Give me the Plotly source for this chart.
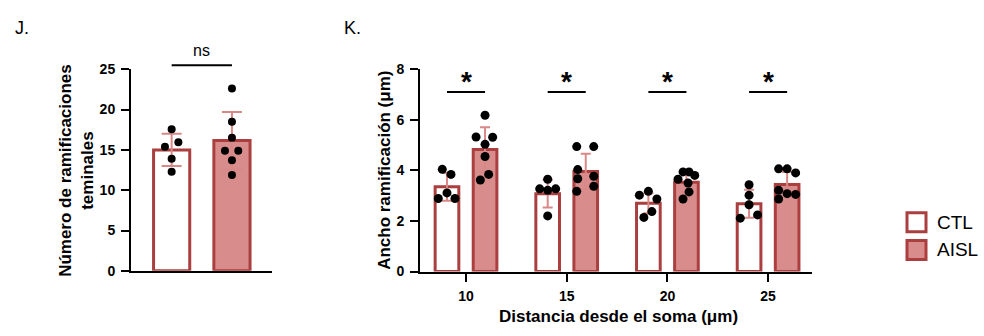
import plotly.graph_objects as go

# ---------------- data ----------------
# Panel J: número de ramificaciones terminales
j_groups = ["CTL", "AISL"]
j_means = [15.0, 16.15]
j_sd = [2.0, 3.55]
j_ctl_points = [17.55, 15.4, 15.95, 13.9, 12.3]
j_aisl_points = [22.6, 18.5, 16.5, 14.9, 14.9, 13.7, 11.9]

# Panel K: ancho de ramificación por distancia
k_distances = ["10", "15", "20", "25"]
k_ctl_means = [3.35, 3.08, 2.70, 2.68]
k_ctl_sd = [0.55, 0.55, 0.40, 0.55]
k_aisl_means = [4.83, 3.96, 3.53, 3.44]
k_aisl_sd = [0.88, 0.70, 0.38, 0.50]
k_ctl_points = [
    [4.04, 3.84, 3.11, 2.89, 2.89],
    [3.65, 3.27, 3.21, 3.27, 2.20],
    [3.02, 3.17, 2.87, 2.37, 2.14],
    [3.43, 3.02, 2.64, 2.11, 2.24],
]
k_aisl_points = [
    [6.18, 5.32, 5.31, 5.03, 4.55, 3.84, 3.62],
    [4.94, 4.94, 4.03, 3.67, 3.77, 3.17, 3.37],
    [3.94, 3.94, 3.80, 3.65, 3.50, 3.15, 2.87],
    [4.06, 4.06, 3.90, 3.21, 3.08, 3.05, 2.87],
]
k_sig = ["*", "*", "*", "*"]
j_sig = "ns"

# ---------------- style ----------------
EDGE = "#ab3f3f"
FILL_AISL = "#d98c8c"
FILL_CTL = "white"
ERR = "#d98888"
FONT = "Liberation Sans, Arial, sans-serif"

W, H = 984, 336
def px_x(p):
    return p / W
def px_y(p):
    return 1 - p / H

J_PX_PER_UNIT = 60.3
K_PX_PER_UNIT = 100.7

fig = go.Figure()

# ---------------- Panel J ----------------
j_x = [0, 1]
fig.add_trace(go.Bar(
    x=j_x, y=j_means, width=0.6,
    marker=dict(color=[FILL_CTL, FILL_AISL], line=dict(color=EDGE, width=3)),
    error_y=dict(type="data", array=j_sd, color=ERR, thickness=2, width=10),
    xaxis="x", yaxis="y", showlegend=False, hoverinfo="skip"))

# horizontal scatter of dots, in pixels
j_ctl_jit = [0, -6.7, 6.7, 0, 0]
j_aisl_jit = [0, 0, 0, -7, 6.3, 0, 0]
fig.add_trace(go.Scatter(
    x=[0 + d / J_PX_PER_UNIT for d in j_ctl_jit] + [1 + d / J_PX_PER_UNIT for d in j_aisl_jit],
    y=j_ctl_points + j_aisl_points, mode="markers",
    marker=dict(color="black", size=8),
    xaxis="x", yaxis="y", showlegend=False, hoverinfo="skip"))

# ---------------- Panel K ----------------
off = 0.189
kx = list(range(len(k_distances)))
fig.add_trace(go.Bar(
    x=[i - off for i in kx], y=k_ctl_means, width=0.235,
    marker=dict(color=FILL_CTL, line=dict(color=EDGE, width=3)),
    error_y=dict(type="data", array=k_ctl_sd, color=ERR, thickness=2, width=5),
    xaxis="x2", yaxis="y2", showlegend=False, hoverinfo="skip"))
fig.add_trace(go.Bar(
    x=[i + off for i in kx], y=k_aisl_means, width=0.235,
    marker=dict(color=FILL_AISL, line=dict(color=EDGE, width=3)),
    error_y=dict(type="data", array=k_aisl_sd, color=ERR, thickness=2, width=5),
    xaxis="x2", yaxis="y2", showlegend=False, hoverinfo="skip"))

# horizontal scatter of dots, in pixels
ctl_jit = [
    [-4.7, 4, 0, -8.7, 8],
    [0, -8, 0, 8, 0],
    [-9, 0, 8.5, 3.5, -4.5],
    [0, 0, 0, -8.8, 8.5],
]
aisl_jit = [
    [0, -9, 7.6, 0, 0, 3.6, -4.7],
    [-9, 8, -8, -8, 8, -9, 8],
    [-3.4, 2.6, 8.3, -8.4, 1.6, 2.6, -3.4],
    [-8.5, 0, 8.5, -8.5, 0, 8.5, -8.5],
]
xs, ys = [], []
for i in kx:
    for d, v in zip(ctl_jit[i], k_ctl_points[i]):
        xs.append(i - off + d / K_PX_PER_UNIT); ys.append(v)
    for d, v in zip(aisl_jit[i], k_aisl_points[i]):
        xs.append(i + off + d / K_PX_PER_UNIT); ys.append(v)
fig.add_trace(go.Scatter(
    x=xs, y=ys, mode="markers", marker=dict(color="black", size=9),
    xaxis="x2", yaxis="y2", showlegend=False, hoverinfo="skip"))

axis_common = dict(showline=True, linecolor="black", linewidth=2, showgrid=False,
                   zeroline=False, ticks="outside", tickwidth=2, tickcolor="black",
                   ticklen=8, ticklabelstandoff=3,
                   tickfont=dict(family=FONT, size=14, color="black", weight="bold"))

fig.update_layout(
    width=W, height=H, margin=dict(l=0, r=0, t=0, b=0),
    paper_bgcolor="white", plot_bgcolor="white",
    barmode="overlay",
    xaxis=dict(domain=[px_x(131), px_x(272)], range=[-0.674, 1.664],
               showline=True, linecolor="black", linewidth=2, showgrid=False,
               zeroline=False, showticklabels=False, ticks=""),
    yaxis=dict(domain=[px_y(276), px_y(64.3)], range=[0, 25], tickvals=[0, 5, 10, 15, 20, 25],
               **axis_common),
    xaxis2=dict(domain=[px_x(420), px_x(811.7)], range=[-0.457, 3.433], anchor="y2",
                tickvals=kx, ticktext=k_distances, **axis_common),
    yaxis2=dict(domain=[px_y(276.7), px_y(64.3)], range=[0, 8], tickvals=[0, 2, 4, 6, 8],
                anchor="x2", **axis_common),
)

ann = []
title_font = dict(family=FONT, size=17, color="black", weight="bold")
ann.append(dict(text="J.", x=px_x(13), y=px_y(21), xref="paper", yref="paper",
                xanchor="left", yanchor="middle", showarrow=False,
                font=dict(family=FONT, size=18, color="black")))
ann.append(dict(text="K.", x=px_x(342), y=px_y(21), xref="paper", yref="paper",
                xanchor="left", yanchor="middle", showarrow=False,
                font=dict(family=FONT, size=18, color="black")))
ann.append(dict(text="Número de ramificaciones<br>teminales", x=px_x(77), y=px_y(171),
                xref="paper", yref="paper", textangle=-90, showarrow=False,
                xanchor="center", yanchor="middle", font=title_font))
ann.append(dict(text="Ancho ramificación (μm)", x=px_x(385), y=px_y(171),
                xref="paper", yref="paper", textangle=-90, showarrow=False,
                xanchor="center", yanchor="middle", font=title_font))
ann.append(dict(text="Distancia desde el soma (μm)", x=px_x(618), y=px_y(324),
                xref="paper", yref="paper", showarrow=False,
                xanchor="center", yanchor="middle", font=title_font))
# significance
ann.append(dict(text=j_sig, x=0.5, y=px_y(45), xref="x", yref="paper", showarrow=False,
                xanchor="center", yanchor="middle",
                font=dict(family=FONT, size=16, color="black")))
shapes = [dict(type="line", xref="x", yref="paper", x0=0, x1=1, y0=px_y(60), y1=px_y(60),
               line=dict(color="black", width=2))]
for i, s in zip(kx, k_sig):
    shapes.append(dict(type="line", xref="x2", yref="paper", x0=i - off, x1=i + off,
                       y0=px_y(88.3), y1=px_y(88.3), line=dict(color="black", width=2)))
    ann.append(dict(text=s, x=i, y=px_y(77), xref="x2", yref="paper", showarrow=False,
                    xanchor="center", yanchor="middle",
                    font=dict(family=FONT, size=28, color="black", weight="bold")))

# legend (manual)
legend_items = [("CTL", FILL_CTL, 225), ("AISL", FILL_AISL, 254)]
for name, fill, cy in legend_items:
    shapes.append(dict(type="rect", xref="paper", yref="paper",
                       x0=px_x(907), x1=px_x(926), y0=px_y(cy - 10), y1=px_y(cy + 10),
                       fillcolor=fill, line=dict(color=EDGE, width=3)))
    ann.append(dict(text=name, x=px_x(935), y=px_y(cy), xref="paper", yref="paper",
                    showarrow=False, xanchor="left", yanchor="middle",
                    font=dict(family=FONT, size=19, color="black")))

fig.update_layout(annotations=ann, shapes=shapes)
fig.write_html("out.html", post_script="document.body.style.margin='0';",
               config={"displayModeBar": False})
